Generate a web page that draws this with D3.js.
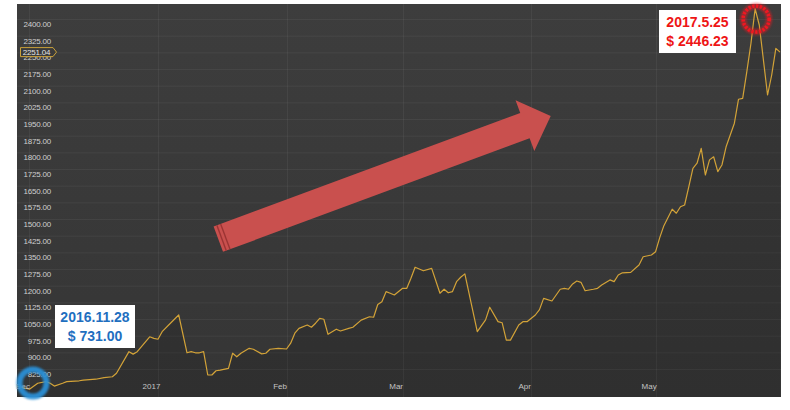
<!DOCTYPE html>
<html><head><meta charset="utf-8">
<script src="https://cdn.jsdelivr.net/npm/d3@7"></script>
<style>
html,body{margin:0;padding:0;background:#fff;}
svg{display:block;}
</style></head>
<body>
<svg id="chart" width="790" height="410"></svg>
<script>
// ---- data ----
const dates = [
"2016-11-28","2016-12-01","2016-12-03","2016-12-05","2016-12-06","2016-12-07","2016-12-09","2016-12-10",
"2016-12-13","2016-12-14","2016-12-17","2016-12-19","2016-12-21","2016-12-22","2016-12-25","2016-12-26",
"2016-12-27","2016-12-30","2016-12-31","2017-01-01","2017-01-02","2017-01-04","2017-01-06","2017-01-08",
"2017-01-09","2017-01-10","2017-01-11","2017-01-12","2017-01-13","2017-01-14","2017-01-15","2017-01-16",
"2017-01-18","2017-01-19","2017-01-20","2017-01-21","2017-01-23","2017-01-24","2017-01-26","2017-01-27",
"2017-01-28","2017-01-30","2017-02-01","2017-02-02","2017-02-03","2017-02-04","2017-02-06","2017-02-07",
"2017-02-08","2017-02-09","2017-02-10","2017-02-11","2017-02-13","2017-02-14","2017-02-16","2017-02-17",
"2017-02-19","2017-02-21","2017-02-22","2017-02-23","2017-02-24","2017-02-25","2017-02-26","2017-02-27",
"2017-03-01","2017-03-02","2017-03-03","2017-03-04","2017-03-06","2017-03-08","2017-03-10","2017-03-11",
"2017-03-12","2017-03-13","2017-03-14","2017-03-15","2017-03-16","2017-03-19","2017-03-21","2017-03-22",
"2017-03-24","2017-03-25","2017-03-26","2017-03-27","2017-03-29","2017-03-30","2017-03-31","2017-04-02",
"2017-04-03","2017-04-04","2017-04-06","2017-04-08","2017-04-09","2017-04-10","2017-04-11","2017-04-12",
"2017-04-13","2017-04-14","2017-04-16","2017-04-17","2017-04-18","2017-04-20","2017-04-21","2017-04-22",
"2017-04-23","2017-04-25","2017-04-27","2017-04-28","2017-04-30","2017-05-01","2017-05-02","2017-05-03",
"2017-05-05","2017-05-06","2017-05-07","2017-05-08","2017-05-09","2017-05-10","2017-05-11","2017-05-12",
"2017-05-13","2017-05-14","2017-05-15","2017-05-16","2017-05-17","2017-05-18","2017-05-20","2017-05-21",
"2017-05-22","2017-05-23","2017-05-24","2017-05-25","2017-05-26","2017-05-28","2017-05-29","2017-05-30",
"2017-05-31"
];
const prices = [
748,734,761,768,761,748,761,768,
772,775,779,786,790,806,903,892,
903,970,963,959,993,1031,1068,898,
903,898,898,903,798,798,817,820,
828,896,880,896,918,914,893,896,
914,918,915,941,986,1008,1023,1013,
1031,1053,1049,981,1004,996,1008,1013,
1045,1060,1058,1115,1128,1173,1166,1158,
1188,1188,1233,1283,1267,1278,1166,1184,
1168,1173,1218,1238,1253,993,1046,1103,
1038,1033,955,955,1023,1038,1038,1068,
1092,1143,1131,1184,1188,1184,1208,1221,
1215,1177,1184,1188,1203,1226,1218,1248,
1258,1260,1293,1330,1338,1353,1416,1470,
1544,1526,1555,1563,1645,1728,1751,1818,
1698,1766,1780,1713,1743,1825,1931,2039,
2043,2163,2291,2446.23,2373,2058,2148,2268,
2251.04
];
const yTickValues = [825,900,975,1050,1125,1200,1275,1350,1425,1500,1575,1650,1725,1800,1875,1950,2025,2100,2175,2250,2325,2400];
const monthTicks = ["2016-12-01","2017-01-01","2017-02-01","2017-03-01","2017-04-01","2017-05-01"];
const monthLabels = ["Dec","2017","Feb","Mar","Apr","May"];
const lastValueLabel = "2251.04";
const lowNote = ["2016.11.28", "$ 731.00"];
const highNote = ["2017.5.25", "$ 2446.23"];
const lowDate = "2016-12-01", lowValue = 734;
const highDate = "2017-05-25", highValue = 2446.23;

// ---- chart ----
const parse = d3.utcParse("%Y-%m-%d");
const data = dates.map((d, i) => ({date: parse(d), value: prices[i]}));
const svg = d3.select("#chart");
const plot = {left: 17, top: 4, right: 781, bottom: 397};

const x = d3.scaleUtc().domain([parse("2016-11-28"), parse("2017-05-31")]).range([plot.left, 780]);
const y = d3.scaleLinear().domain([699, 2467.5]).range([plot.bottom, plot.top]);

const defs = svg.append("defs");
const bg = defs.append("linearGradient").attr("id", "bg").attr("x1", 0).attr("y1", 0).attr("x2", 0).attr("y2", 1);
bg.append("stop").attr("offset", "0%").attr("stop-color", "#3d3d3d");
bg.append("stop").attr("offset", "100%").attr("stop-color", "#353535");
const ag = defs.append("linearGradient").attr("id", "ag").attr("x1", 0).attr("y1", 0).attr("x2", 0).attr("y2", 1);
ag.append("stop").attr("offset", "0%").attr("stop-color", "#000").attr("stop-opacity", 0.10);
ag.append("stop").attr("offset", "100%").attr("stop-color", "#000").attr("stop-opacity", 0.12);
defs.append("clipPath").attr("id", "clip").append("rect")
  .attr("x", plot.left).attr("y", plot.top).attr("width", plot.right - plot.left).attr("height", plot.bottom - plot.top);
const blur = defs.append("filter").attr("id", "blur").attr("x", "-50%").attr("y", "-50%").attr("width", "200%").attr("height", "200%");
blur.append("feGaussianBlur").attr("stdDeviation", 1.3);
const blur2 = defs.append("filter").attr("id", "blur2").attr("x", "-50%").attr("y", "-50%").attr("width", "200%").attr("height", "200%");
blur2.append("feGaussianBlur").attr("stdDeviation", 0.6);

svg.append("rect").attr("x", plot.left).attr("y", plot.top)
  .attr("width", plot.right - plot.left).attr("height", plot.bottom - plot.top).attr("fill", "url(#bg)");

// grid
const grid = svg.append("g").attr("clip-path", "url(#clip)");
grid.selectAll("line.h").data(yTickValues).join("line").attr("class", "h")
  .attr("x1", plot.left).attr("x2", plot.right).attr("y1", d => y(d) + 0.5).attr("y2", d => y(d) + 0.5)
  .attr("stroke", "#ffffff").attr("stroke-opacity", 0.05);
grid.selectAll("line.v").data(monthTicks).join("line").attr("class", "v")
  .attr("x1", d => Math.round(x(parse(d))) + 0.5).attr("x2", d => Math.round(x(parse(d))) + 0.5)
  .attr("y1", plot.top).attr("y2", plot.bottom)
  .attr("stroke", "#ffffff").attr("stroke-opacity", 0.05);

// area + line
const g = svg.append("g").attr("clip-path", "url(#clip)");
g.append("path").datum(data)
  .attr("d", d3.area().x(d => x(d.date)).y0(plot.bottom).y1(d => y(d.value)))
  .attr("fill", "url(#ag)");
g.append("path").datum(data)
  .attr("d", d3.line().x(d => x(d.date)).y(d => y(d.value)))
  .attr("fill", "none").attr("stroke", "#d3a338").attr("stroke-width", 1.2).attr("stroke-linejoin", "round");

// y axis labels
const yAxis = svg.append("g").attr("transform", "translate(51,5)")
  .call(d3.axisLeft(y).tickValues(yTickValues).tickFormat(d3.format(".2f")).tickSize(0).tickPadding(0));
yAxis.select(".domain").remove();
yAxis.selectAll("text").attr("fill", "#cfcfcf").attr("font-family", "Liberation Sans, Arial, sans-serif")
  .attr("font-size", 8).attr("letter-spacing", -0.2);

// x axis labels
const xAxis = svg.append("g").attr("transform", "translate(-7,383)")
  .call(d3.axisBottom(x).tickValues(monthTicks.map(parse)).tickFormat((d, i) => monthLabels[i]).tickSize(0).tickPadding(0));
xAxis.select(".domain").remove();
xAxis.selectAll("text").attr("fill", "#c4c4c4").attr("font-family", "Liberation Sans, Arial, sans-serif").attr("font-size", 8);

// last value tag
const lastY = y(prices[prices.length - 1]);
const tag = svg.append("g");
tag.append("path")
  .attr("d", `M20.5,${lastY - 4.5} L53,${lastY - 4.5} L56.5,${lastY} L53,${lastY + 4.5} L20.5,${lastY + 4.5} Z`)
  .attr("fill", "#3a3a3a").attr("stroke", "#c9a03a").attr("stroke-width", 1);
tag.append("text").attr("x", 36.5).attr("y", lastY + 3).attr("text-anchor", "middle")
  .attr("fill", "#e4e4e4").attr("font-family", "Liberation Sans, Arial, sans-serif").attr("font-size", 8)
  .attr("letter-spacing", -0.2).text(lastValueLabel);

// red arrow
const arrow = svg.append("g").attr("transform", "translate(218.3,239.2) rotate(-20.33)");
arrow.append("path")
  .attr("d", "M0,-13.5 L327,-13.5 L327,-27 L354.5,0 L327,27 L327,13.5 L0,13.5 Z")
  .attr("fill", "#c9504e");
[3.5, 7.5].forEach(u => arrow.append("line").attr("x1", u).attr("x2", u).attr("y1", -13.5).attr("y2", 13.5)
  .attr("stroke", "#9c3434").attr("stroke-width", 1.4));

// circles
const lowC = {cx: 33, cy: 383};
svg.append("circle").attr("cx", lowC.cx).attr("cy", lowC.cy).attr("r", 13.5)
  .attr("fill", "none").attr("stroke", "#2a8fd6").attr("stroke-width", 6).attr("filter", "url(#blur)").attr("opacity", 0.95);
const hiC = {cx: x(parse(highDate)) + 1, cy: 19};
svg.append("circle").attr("cx", hiC.cx).attr("cy", hiC.cy).attr("r", 13)
  .attr("fill", "none").attr("stroke", "#e81c24").attr("stroke-width", 6).attr("filter", "url(#blur)").attr("opacity", 0.55);
svg.append("circle").attr("cx", hiC.cx).attr("cy", hiC.cy).attr("r", 13)
  .attr("fill", "none").attr("stroke", "#f01820").attr("stroke-width", 3.5).attr("stroke-dasharray", "2.2,1.6").attr("filter", "url(#blur2)");

// note boxes
function note(bx, by, w, h, lines, color) {
  const n = svg.append("g");
  n.append("rect").attr("x", bx).attr("y", by).attr("width", w).attr("height", h).attr("fill", "#ffffff");
  lines.forEach((t, i) => n.append("text").attr("x", bx + w / 2).attr("y", by + 16.5 + i * 19)
    .attr("text-anchor", "middle").attr("fill", color).attr("font-family", "Liberation Sans, Arial, sans-serif")
    .attr("font-weight", "bold").attr("font-size", 14).text(t));
}
note(55, 305, 80, 43, lowNote, "#1f6fbf");
note(659, 10, 77, 43, highNote, "#ee1515");
</script>
</body></html>
